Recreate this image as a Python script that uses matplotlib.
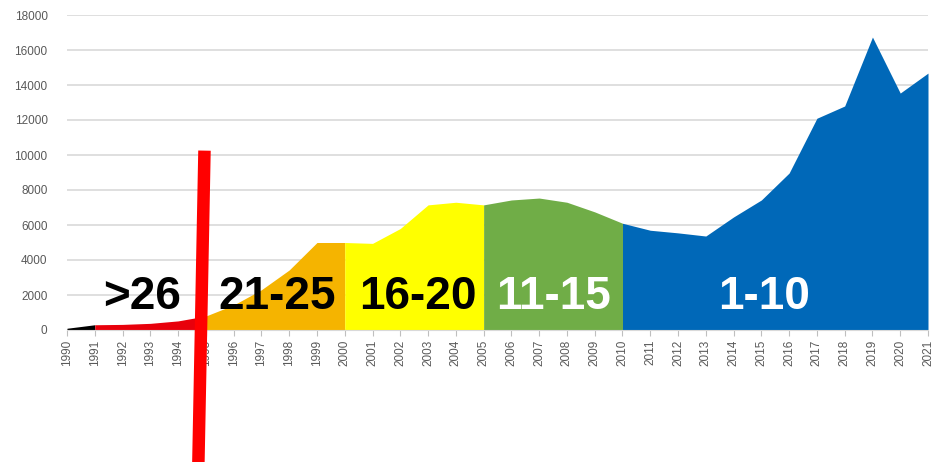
import matplotlib
matplotlib.use("Agg")
import matplotlib.pyplot as plt
import numpy as np

years = list(range(1990, 2022))
values = [100, 300, 320, 380, 520, 800, 1430, 2300, 3430, 5000, 5000,
          4950, 5800, 7150, 7300, 7150, 7430, 7540, 7300, 6750, 6100,
          5700, 5550, 5370, 6460, 7430, 8970, 12100, 12800, 16740, 13540, 14680]

seg_bounds = [(1990, 1991), (1991, 1995), (1995, 2000), (2000, 2005), (2005, 2010), (2010, 2021)]
seg_colors = ["#000000", "#E8000B", "#F5B400", "#FFFF00", "#70AD47", "#0068B8"]
seg_labels = ["", ">26", "21-25", "16-20", "11-15", "1-10"]
label_x = [None, 1992.7, 1997.55, 2002.65, 2007.5, 2015.1]
label_colors = [None, "black", "black", "black", "white", "white"]

plt.rcParams['font.family'] = ['Liberation Sans', 'DejaVu Sans']

fig = plt.figure(figsize=(9.34, 4.62), dpi=100)
ax = fig.add_axes([67/934, 1-330/462, (928-67)/934, (330-15)/462])

x = np.array(years, dtype=float)
y = np.array(values, dtype=float)

for (a, b), c in zip(seg_bounds, seg_colors):
    m = (x >= a) & (x <= b)
    ax.fill_between(x[m], 0, y[m], color=c, linewidth=0, zorder=2)

ax.set_xlim(1990, 2021)
ax.set_ylim(0, 18000)
ax.set_yticks(range(0, 18001, 2000))
ax.set_yticklabels([str(v) for v in range(0, 18001, 2000)], fontsize=8.5, color="#595959")
ax.set_xticks(years)
ax.set_xticklabels([str(v) for v in years], rotation=90, fontsize=8.5, color="#595959")
ax.grid(axis="y", color="#D9D9D9", linewidth=1.2, zorder=0)
ax.set_axisbelow(True)
for s in ["top", "right", "left"]:
    ax.spines[s].set_visible(False)
ax.spines["bottom"].set_color("#D9D9D9")
ax.tick_params(axis="y", length=0, pad=14)
ax.tick_params(axis="x", length=4, color="#BFBFBF", pad=3)

for lbl, lx, lc in zip(seg_labels, label_x, label_colors):
    if lbl:
        ax.text(lx, 1900, lbl, ha="center", va="center", fontsize=33,
                fontweight="bold", color=lc, zorder=5)

# red divider line
ax.plot([1994.95, 1994.73], [10250, -7600], color="#FF0000", linewidth=9,
        solid_capstyle="butt", clip_on=False, zorder=6)

fig.savefig("out.png", dpi=100)
